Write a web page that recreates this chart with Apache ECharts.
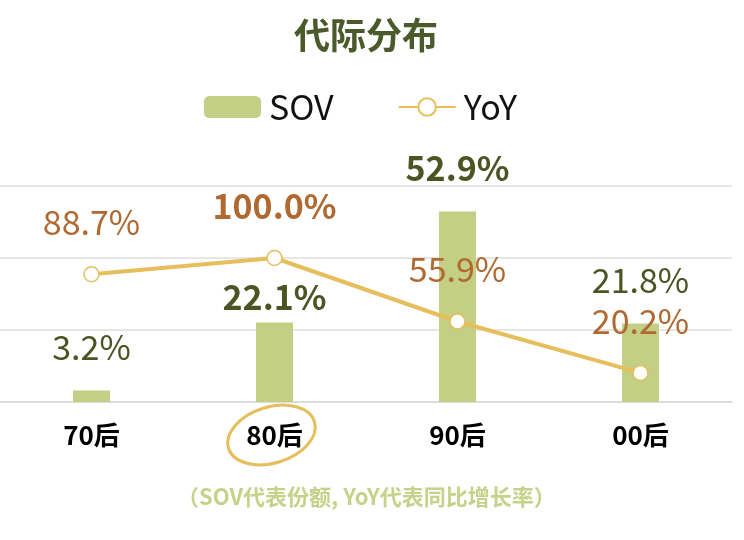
<!DOCTYPE html>
<html><head><meta charset="utf-8">
<script src="https://cdn.jsdelivr.net/npm/echarts@6/dist/echarts.min.js"></script>
<style>html,body{margin:0;padding:0;background:#fff}#c{width:744px;height:540px}</style>
</head><body><div id="c"></div>
<script>
const categories = ['70后', '80后', '90后', '00后'];
const sovValues = [3.2, 22.1, 52.9, 21.8];
const yoyValues = [88.7, 100.0, 55.9, 20.2];
const boldSov = [false, true, true, false];
const boldYoy = [false, true, false, false];
const sovLabelDist = [26, 8, 26, 26];
const titleText = '代际分布';
const noteText = '（SOV代表份额, YoY代表同比增长率）';

const FONT = '"Noto Sans CJK SC", "Noto Sans", sans-serif';
const chart = echarts.init(document.getElementById('c'));
const noteGraphic = { type: 'text', left: 177, top: 486,
  style: { text: noteText, fontFamily: FONT, fontSize: 22, fontWeight: 'bold', fill: '#c5d38a' } };
const option = {
  backgroundColor: '#fff',
  animation: false,
  title: {
    text: titleText, left: 289, top: 12,
    textStyle: { fontFamily: FONT, fontSize: 36, fontWeight: 'bold', color: '#4b5a2a' }
  },
  legend: {
    top: 85, left: 199, itemWidth: 57, itemHeight: 22, itemGap: 64,
    textStyle: { fontFamily: FONT, fontSize: 34, color: '#111', padding: [0, 0, 0, 3] },
    data: ['SOV', 'YoY']
  },
  grid: { left: 0, right: 12, top: 186, bottom: 138, containLabel: false },
  xAxis: {
    type: 'category', data: categories,
    axisLine: { lineStyle: { color: '#d9d9d9', width: 1.5 } },
    axisTick: { show: false },
    axisLabel: { margin: 20, fontFamily: FONT, fontSize: 26, fontWeight: 'bold', color: '#000' }
  },
  yAxis: [
    { type: 'value', min: 0, max: 60, interval: 20, axisLabel: { show: false },
      splitLine: { lineStyle: { color: '#dedede', width: 1.5 } }, axisLine: { show: false }, axisTick: { show: false } },
    { type: 'value', min: 0, max: 150, interval: 50, axisLabel: { show: false },
      splitLine: { show: false }, axisLine: { show: false }, axisTick: { show: false } }
  ],
  series: [
    {
      name: 'SOV', type: 'bar', yAxisIndex: 0, barWidth: 37,
      itemStyle: { color: '#c2cf84' },
      data: sovValues.map((v, i) => ({
        value: v,
        label: { distance: sovLabelDist[i], fontWeight: boldSov[i] ? 'bold' : 'normal' }
      })),
      label: { show: true, position: 'top', fontFamily: FONT, fontSize: 34, color: '#4b5523',
        formatter: p => p.value.toFixed(1) + '%' },
      z: 2
    },
    {
      name: 'YoY', type: 'line', yAxisIndex: 1,
      symbol: 'circle', symbolSize: 15,
      lineStyle: { color: '#e6bf5c', width: 4 },
      itemStyle: { color: '#fff', borderColor: '#e6bf5c', borderWidth: 1.5 },
      data: yoyValues.map((v, i) => ({
        value: v,
        label: { fontWeight: boldYoy[i] ? 'bold' : 'normal' }
      })),
      label: { show: true, position: 'top', distance: 27, fontFamily: FONT, fontSize: 34, color: '#b06a31',
        formatter: p => p.value.toFixed(1) + '%' },
      z: 3
    }
  ],
  graphic: [noteGraphic]
};
chart.setOption(option);
const pt = chart.convertToPixel({ xAxisIndex: 0, yAxisIndex: 0 }, ['80后', 0]);
chart.setOption({
  graphic: [
    noteGraphic,
    { type: 'ellipse', x: pt[0] - 3, y: pt[1] + 33, rotation: 0.3,
      shape: { cx: 0, cy: 0, rx: 45, ry: 28 },
      style: { fill: 'none', stroke: '#e6bf5c', lineWidth: 3 } }
  ]
});
</script></body></html>
